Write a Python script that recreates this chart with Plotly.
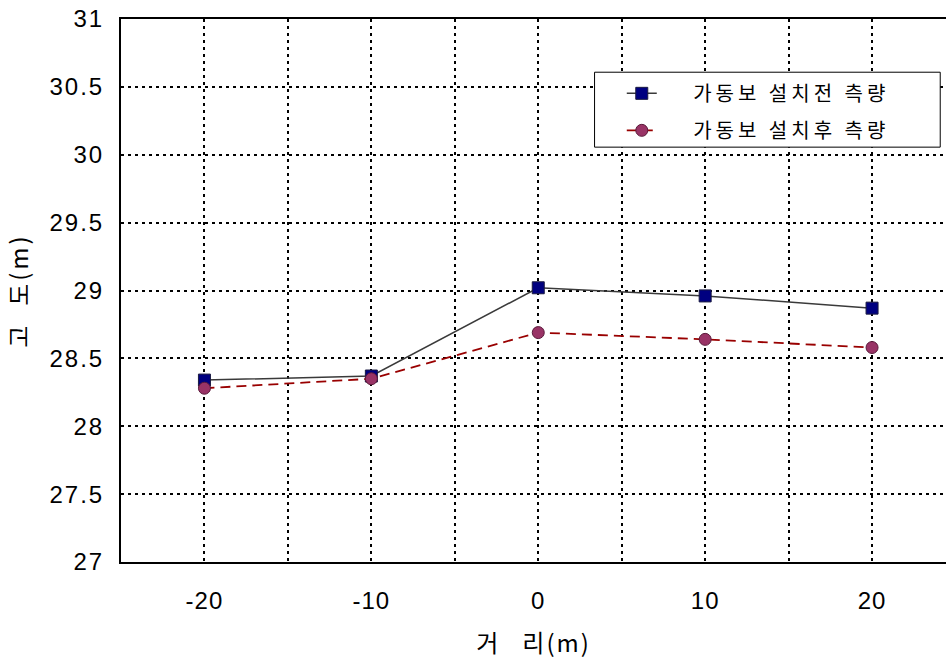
import plotly.graph_objects as go

distance = [-20, -10, 0, 10, 20]
before = [28.34, 28.37, 29.02, 28.96, 28.87]
after = [28.28, 28.35, 28.69, 28.64, 28.58]

x_tickvals = [-25, -20, -15, -10, -5, 0, 5, 10, 15, 20]
x_ticklabels = ["", "-20", "", "-10", "", "0", "", "10", "", "20"]
y_tickvals = [27, 27.5, 28, 28.5, 29, 29.5, 30, 30.5, 31]
y_ticklabels = ["27", "27.5", "28", "28.5", "29", "29.5", "30", "30.5", "31"]

name_before = "가동보 설치전 측량"
name_after = "가동보 설치후 측량"
x_title = "거   리(m)"
y_title = "고  도(m)"


def spaced(txt, px):
    return "<span style='letter-spacing:%dpx'>%s</span>" % (px, txt.replace(" ", "\u00a0"))


lead = "\u00a0" * 7

fig = go.Figure()
fig.add_trace(go.Scatter(
    x=distance, y=before, name=lead + spaced(name_before, 4),
    mode="lines+markers",
    line=dict(color="#3a3a3a", width=1.5),
    marker=dict(symbol="square", size=12, color="#000080",
                line=dict(color="#1a1a40", width=1)),
    legendgroup="a",
))
fig.add_trace(go.Scatter(
    x=distance, y=after, name=lead + spaced(name_after, 4),
    mode="lines+markers",
    line=dict(color="#990000", width=1.8, dash="10px,6px"),
    marker=dict(symbol="circle", size=12, color="#993366",
                line=dict(color="#5a1a3a", width=1)),
    legendgroup="b",
))

tick_font = dict(family="Arial, Liberation Sans, sans-serif", size=24, color="black")
title_font = dict(family="Noto Sans CJK KR, sans-serif", size=24, color="black")

fig.add_shape(type="rect", xref="paper", yref="paper",
              x0=0.574, x1=0.993, y0=0.764, y1=0.902,
              line=dict(color="black", width=1), fillcolor="white", layer="above")

fig.update_layout(
    width=946, height=662,
    margin=dict(l=121, r=0, t=19, b=100),
    paper_bgcolor="white", plot_bgcolor="white",
    showlegend=True,
    legend=dict(
        x=0.607, y=0.899, xanchor="left", yanchor="top",
        borderwidth=0, bgcolor="rgba(0,0,0,0)",
        font=dict(family="Noto Sans CJK KR, sans-serif", size=20, color="black"),
        tracegroupgap=8,
    ),
    xaxis=dict(
        range=[-25, 24.43], tickvals=x_tickvals,
        ticktext=[spaced(t, 1) for t in x_ticklabels],
        showgrid=True, gridcolor="black", griddash="3px,4px", gridwidth=1.5,
        showline=True, linecolor="black", linewidth=2, mirror=True,
        ticks="outside", ticklen=16, tickcolor="rgba(0,0,0,0)",
        tickfont=tick_font, zeroline=False, automargin=False,
        ticklabeloverflow="allow",
        title=dict(text=spaced(x_title, 2), font=title_font, standoff=22),
    ),
    yaxis=dict(
        range=[27, 31], tickvals=y_tickvals,
        ticktext=[spaced(t, 2) for t in y_ticklabels],
        showgrid=True, gridcolor="black", griddash="3px,4px", gridwidth=1.5,
        showline=True, linecolor="black", linewidth=2, mirror=False,
        ticks="outside", ticklen=10, tickcolor="rgba(0,0,0,0)",
        tickfont=tick_font, zeroline=False, automargin=False,
        ticklabeloverflow="allow",
        title=dict(text=spaced(y_title, 3), font=title_font, standoff=24),
    ),
)

# remove the default 8px page margin so the figure fills the window exactly
fig.write_html("out.html", config={"displayModeBar": False},
               post_script="document.body.style.margin='0';")
